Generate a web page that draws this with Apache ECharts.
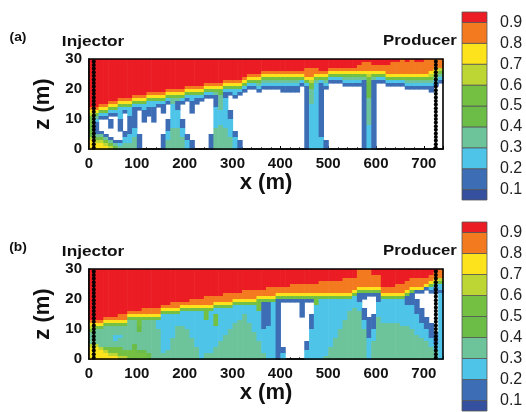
<!DOCTYPE html>
<html><head><meta charset="utf-8">
<script src="https://cdn.jsdelivr.net/npm/echarts@6/dist/echarts.min.js"></script>
<style>html,body{margin:0;padding:0;background:#fff}#c{width:526px;height:412px}</style>
</head><body><div id="c"></div>
<script>
// ---- data ----
const xTicks = [0, 100, 200, 300, 400, 500, 600, 700];
const zTicks = [0, 10, 20, 30];
const levelTicks = [0.1, 0.2, 0.3, 0.4, 0.5, 0.6, 0.7, 0.8, 0.9];
const levelLo = [0.05, 0.1, 0.2, 0.3, 0.4, 0.5, 0.6, 0.7, 0.8, 0.9];
const levelHi = [0.1, 0.2, 0.3, 0.4, 0.5, 0.6, 0.7, 0.8, 0.9, 0.95];
const bandColors = ['#34509F', '#3D6DB5', '#4EC5E8', '#6DC49A', '#6BBD47', '#74C043', '#BDD633', '#FCE31B', '#F47A20', '#EC1C24'];
const wellX = [10, 725];
const wellZ = [0.4, 1.6, 2.8, 4, 5.2, 6.4, 7.6, 8.8, 10, 11.2, 12.4, 13.6, 14.8, 16, 17.2, 18.4, 19.6, 20.8, 22, 23.2, 24.4, 25.6, 26.8, 28, 29.2];
const cellX = 10, cellZ = 1, nRows = 30;
// saturation band (digit d = value in [d/10,(d+1)/10), 0 = below range), per 10 m column, top (z=30) to bottom (z=0), run-length coded
const satA = [
"9*16 8 7 6 5*3 4*4 6 7*3","9*16 8 7 5 3 2 1*4 3 5 6 7*2","9*15 8 7 5 2 1 0*4 1 3 5 6 7*2","9*15 8 7 5 2 1 0*5 1 3 5 6 7",
"9*14 8 7 5 2 1 0 1*3 0*3 1 3 5 6","9*14 8 7 5 2 1 0*8 1 3 4","9*13 8 7 5 2 2*3 1*4 0*3 1 2 3","9*13 8 7 5 2 1 0*6 1*2 2*2 3*2",
"9*13 8 7 5 2*3 1*6 2*3 3*2","9*12 8 7 5 2 1*7 2*3 3*4","9*12 8 7 5 2 1 0*8 1*5","9*12 8 7 5 2 2 1*4 0*9",
"9*11 8 7 5 2 2 1*3 0*11","9*11 8 7 5 2*2 1*5 0*9","9*11 8 7 5 2 1 0*14","9*11 8 7 5 2 1*3 0*7 1*5",
"9*10 8 7 5 2 1 0*5 1*4 2*3 3*3","9*10 8 7 5 3*2 2*8 3*7","9*10 8 7 5 3 1*3 2*6 3*7","9*10 8 7 5 2 1 0*5 1*3 2*3 3*4",
"9*9 8 7 5 2 1 0*11 1*2 2*3","9*9 8 7 5 2 2 1*4 0*9 1*3","9*9 8 7 5 2 1*2 0*15","9*9 8 7 5 2 1 0*16",
"9*8 8 7 5 2 1 0*17","9*8 8 7 5 2 1 0*12 1*5","9*8 8 7 5 3 1*4 2*7 3*7","9*8 8 7 5 4 3*5 2*5 3*8",
"9*7 8 7 5 2 1*2 2*10 3*7","9*7 8 7 5 2 1 0*5 1*3 2*6 3*4","9*7 8 7 5 2 2 1 0*11 1*2 2*4","9*7 8 7 5 2 1 0*15 1*3",
"9*6 8 7 5 2 1 0*19","9*5 8 7 5 2 1 0*20","9*5 8 7 5 2 1 0*20","9*5 8 7 5 3 2 1 0*19",
"9*4 8 7 5 3 2 1 0*20","9*4 8 7 5 3 2 1 0*20","9*4 8 7 5 3 2 1 0*20","9*4 8 7 5 3 2 1 0*20",
"9*4 8 7 5 3 2 1*2 0*19","9*4 8 7 5 3 2 1*2 0*19","9*4 8 7 5 3 2 1*2 0*19","9*4 8 7 5 3 2 1*2 0*19",
"9*4 8 7 5 2 1 0*21","9*3 8*3 7 5 2 1*21","9*3 8*3 7 6 5*2 3*5 2*15","9*3 8*2 7 5 3 2*22",
"9*4 8 7 5 2 1*18 2*4","9*4 8 7 5 3 2 1 0*17 1*3","9*3 8 7 5 2 1 0*22","9*3 8 7 5 2 1 0*22",
"9*3 8 7 5 2 1 0*22","9*3 8 7 5 3 2 1 0*21","9*3 8 7 5 3 2 1 0*21","9*3 8 7 5 3 2 1 0*21",
"9*2 8*2 7 5 3 2 1 0*21","9 8*3 7 5 3 1*23","9 8*3 7 6 5*2 4*5 3*9 2*8","9*2 8*2 7 5 3 1*23",
"9*2 8*2 7 5 2 1 0*22","9*2 8*2 7 5 2 1 0*22","9*2 8*3 7 5 2 1 0*21","9 8*4 7 5 2 1 0*21",
"9 8*4 7 5 2 1 0*21","8*5 7 5 2 1 0*21","9 8*4 7 5 3 2 1 0*20","8*5 7 5 3 2 1 0*20",
"9 8*4 7 5 3 2 1 0*20","9 8*4 7 5 3 2 1 0*20","8*5 7 5 3 2 1 0*20","8*4 7 6 5 3 2 1*2 0*19",
"8*3 7 6 5 3 2 1 0*21","8*3 6 5 3 2 1 0*22"
];
const satB = [
"9*17 8 7 6 5 3*4 6 7*4","9*17 8 7 5 3*5 6 7*4","9*17 8 7 5 3*6 6 7*3","9*16 8 7 5 3*7 5 6 7*2",
"9*16 8 7 5 3*7 5*2 6 7","9*16 8 7 5 3*3 2*2 3*2 5*2 6 7","9*15 8*2 7 5 3*3 2 3*3 5*3 6","9*15 8*2 7 5 3*8 5*2 6",
"9*14 8 7 5 3*10 5*3","9*14 8 7 5 3*8 4*2 5*3","9*14 8 7 5*3 4*2 3*6 4 5*2","9*13 8*2 7 5 3*10 4 5*2",
"9*13 8*2 7 5 3*11 4*2","9*13 8*2 7 5 3*13","9*13 8*2 7 5 2*3 3*10","9*12 8 7 5 2*13 3*2",
"9*12 8 7 5 2*12 3*3","9*11 8*2 7 5 2*8 3*7","9*11 8*2 7 5 2*4 3*11","9*11 8 7 5 2*5 3*11",
"9*11 8 7 5 2*6 3*10","9*10 8*2 7 5 2*9 3*7","9*10 8*2 7 5 2*12 3*4","9*10 8*2 7 5 2*16",
"9*9 8*3 7 5*4 2*11 3*2","9*9 8*3 7 5 2*14 3*2","9*9 8*2 7 5 2*2 5*4 2*7 3*4","9*9 8*2 7 5 2*11 3*6",
"9*8 8*3 7 5 2*9 3*8","9*8 8*3 7 5 2*7 3*10","9*8 8*2 7 5 2*6 3*12","9*8 8*2 7 5 2*5 3*13",
"9*7 8*3 7 5 2*3 3*15","9*7 8*3 7 5 2*6 3*12","9*7 8*3 7 5 2*9 3*9","9*7 8*2 7 5*4 2*10 3*6",
"9*7 8*2 7 5 1*9 2*8 3*2","9*6 8*3 7 5 1*8 2*11","9*6 8*3 7 5 2*19","9*6 8*2 7 5 1*20",
"9*6 8*2 7 5 1 0*15 1*2 2*2","9*6 8*2 7 5 1 0*19","9*5 8*3 7 5 1 0*19","9*5 8*3 7 5 1 0*19",
"9*5 8*3 7 5 1*6 0*14","9*5 8*3 7 5 1 0*13 1*3 2*3","9*5 8*3 7 5 1 0*4 1*5 2*10","9*5 8*3 7 5*3 2*18",
"9*4 8*4 7 5 2*20","9*4 8*4 7 5 2*19 3","9*4 8*4 7 5 2*16 3*4","9*4 8*4 7 5 2*13 3*7",
"9*4 8*4 7 5 2*10 3*10","9*3 8*5 7 5 2*7 3*13","9*3 8*5 7 5 2*4 3*16","9*3 8*4 7 5 2*4 3*17",
"8*6 7 5 1*3 2*3 3*16","8*6 7 5 1*2 0*3 1*4 2*3 3*10","8*6 7 5 1 0*7 1*7 2*7","9*2 8*4 7 5 1 0*6 1*5 2*4 3*6",
"9*2 8*4 7 5 1*3 2*5 3*14","9*6 8*2 7 5 2*8 3*12","9*6 8*2 7 5 2*8 3*12","9*6 8*2 7 5 2*8 3*12",
"9*5 8*3 7 5 2*8 3*12","9*5 8*3 7 5 2*9 3*11","9*4 8*3 7 5 1*3 2*7 3*11","9*3 8*3 7 5 1*4 2*8 3*10",
"9*3 8*3 7 1 0*2 1*5 2*7 3*8","9*3 8*3 7 1 0*5 1*5 2*5 3*7","9*3 8*2 7 1 0*9 1*4 2*4 3*6","9*2 8*2 7 5 2 1 0*10 1*5 2*3 3*4",
"9 8*2 7 5 2 1*2 0*13 1*4 2*2 3*3","8*3 6 5 2*2 1 2*22"
];

// ---- build cell runs ----
function decode(str) {
  const out = [];
  str.trim().split(/\s+/).forEach(t => {
    const p = t.split('*');
    const n = p[1] ? parseInt(p[1], 10) : 1;
    for (let k = 0; k < n; k++) out.push(parseInt(p[0], 10));
  });
  if (out.length !== nRows) console.warn('column length', out.length, str);
  while (out.length < nRows) out.push(out[out.length - 1]);
  return out.slice(0, nRows);
}
function buildCells(cols) {
  const cells = [];
  cols.forEach((s, i) => {
    const v = decode(s);
    let k = 0;
    while (k < nRows) {
      let e = k;
      while (e + 1 < nRows && v[e + 1] === v[k]) e++;
      if (v[k] > 0) cells.push([i * cellX, (nRows - 1 - e) * cellZ, (i + 1) * cellX, (nRows - k) * cellZ, v[k]]);
      k = e + 1;
    }
  });
  return cells;
}
const cellsA = buildCells(satA), cellsB = buildCells(satB);

function renderCell(params, api) {
  const a = api.coord([api.value(0), api.value(3)]);
  const b = api.coord([api.value(2), api.value(1)]);
  return { type: 'rect', shape: { x: a[0], y: a[1], width: b[0] - a[0] + 0.6, height: b[1] - a[1] + 0.6 },
           style: { fill: bandColors[api.value(4)] } };
}
function renderBar(params, api) {
  const a = api.coord([0, api.value(1)]);
  const b = api.coord([1, api.value(0)]);
  return { type: 'rect', shape: { x: a[0], y: a[1], width: b[0] - a[0], height: b[1] - a[1] },
           style: { fill: bandColors[api.value(2)], stroke: '#555', lineWidth: 0.8 } };
}
const barData = levelLo.map((lo, i) => [lo, levelHi[i], i]);

const font = 'Liberation Sans, Arial, sans-serif';
function plotX(gi) {
  return { gridIndex: gi, type: 'value', min: 0, max: 740, interval: 100, offset: 3,
    axisLine: { show: true, lineStyle: { color: '#000', width: 1.5 } },
    axisTick: { show: true, inside: true, length: 3, lineStyle: { color: '#000', width: 1 } },
    minorTick: { show: true, splitNumber: 5, length: 2, lineStyle: { color: '#333', width: 0.8 } },
    splitLine: { show: false },
    axisLabel: { customValues: xTicks, margin: 4, fontSize: 15, fontWeight: 'bold', color: '#111', fontFamily: font },
    name: 'x (m)', nameLocation: 'middle', nameGap: 11,
    nameTextStyle: { fontSize: 22, fontWeight: 'bold', color: '#111', fontFamily: font } };
}
function plotY(gi) {
  return { gridIndex: gi, type: 'value', min: 0, max: 30, interval: 10, offset: 3,
    axisLine: { show: true, lineStyle: { color: '#000', width: 1.5 } },
    axisTick: { show: true, inside: true, length: 3, lineStyle: { color: '#000', width: 1 } },
    minorTick: { show: true, splitNumber: 5, length: 2, lineStyle: { color: '#333', width: 0.8 } },
    splitLine: { show: false },
    axisLabel: { customValues: zTicks, margin: 4, fontSize: 15, fontWeight: 'bold', color: '#111', fontFamily: font },
    name: 'z (m)', nameLocation: 'middle', nameGap: 30, nameRotate: 90,
    nameTextStyle: { fontSize: 22, fontWeight: 'bold', color: '#111', fontFamily: font } };
}
function barX(gi) { return { gridIndex: gi, type: 'value', min: 0, max: 1, show: false }; }
function barY(gi) {
  return { gridIndex: gi, type: 'value', min: 0.05, max: 0.95, position: 'right',
    axisLine: { show: false }, axisTick: { show: false }, splitLine: { show: false },
    axisLabel: { customValues: levelTicks, margin: 13, fontSize: 16, color: '#222', fontFamily: font,
                 formatter: v => v.toFixed(1) } };
}
function wellSeries(xi, wx) {
  return { type: 'line', xAxisIndex: xi, yAxisIndex: xi, data: wellZ.map(z => [wx, z]),
    symbol: 'circle', symbolSize: 4, showSymbol: true, lineStyle: { color: '#000', width: 1.2 },
    itemStyle: { color: '#000' }, silent: true, z: 5 };
}
function label(text, x, y, size, sx) {
  return { type: 'text', x: x, y: y, scaleX: sx, z: 10,
    style: { text: text, x: 0, y: 0, align: 'center', verticalAlign: 'middle',
             font: 'bold ' + size + 'px ' + font, fill: '#111' } };
}
function frame(x, y, w, h) {
  return { type: 'rect', z: 8, shape: { x: x, y: y, width: w, height: h },
    style: { fill: 'none', stroke: '#000', lineWidth: 1.6 } };
}

const chart = echarts.init(document.getElementById('c'), null, { renderer: 'canvas', width: 526, height: 412 });
chart.setOption({
  animation: false,
  backgroundColor: '#fff',
  grid: [
    { left: 89, top: 59, width: 354, height: 90 },
    { left: 89, top: 269, width: 354, height: 90 },
    { left: 462, top: 12, width: 25, height: 188 },
    { left: 462, top: 222, width: 25, height: 189 }
  ],
  xAxis: [plotX(0), plotX(1), barX(2), barX(3)],
  yAxis: [plotY(0), plotY(1), barY(2), barY(3)],
  series: [
    { type: 'custom', xAxisIndex: 0, yAxisIndex: 0, data: cellsA, renderItem: renderCell, silent: true },
    { type: 'custom', xAxisIndex: 1, yAxisIndex: 1, data: cellsB, renderItem: renderCell, silent: true },
    wellSeries(0, wellX[0]), wellSeries(0, wellX[1]), wellSeries(1, wellX[0]), wellSeries(1, wellX[1]),
    { type: 'custom', xAxisIndex: 2, yAxisIndex: 2, data: barData, renderItem: renderBar, silent: true },
    { type: 'custom', xAxisIndex: 3, yAxisIndex: 3, data: barData, renderItem: renderBar, silent: true }
  ],
  graphic: [
    frame(89, 59, 354, 90), frame(89, 269, 354, 90),
    label('(a)', 18, 38, 12, 1.15), label('Injector', 93, 42, 15, 1.15), label('Producer', 420, 41, 15, 1.12),
    label('(b)', 18, 248, 12, 1.15), label('Injector', 93, 252, 15, 1.15), label('Producer', 420, 251, 15, 1.12)
  ]
});
</script>
</body></html>
